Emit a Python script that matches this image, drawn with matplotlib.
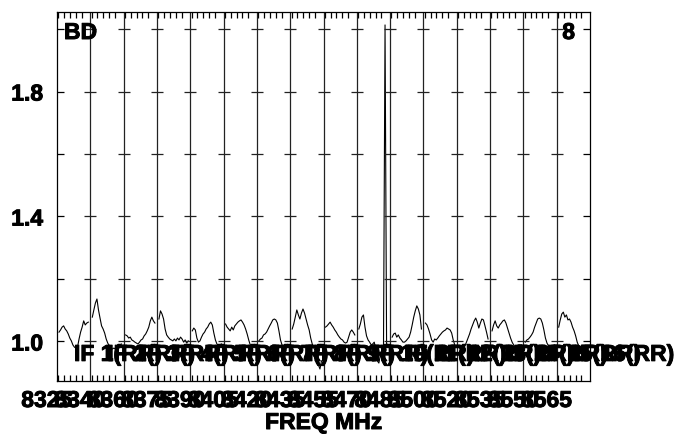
import matplotlib.pyplot as plt
import matplotlib.transforms as mtransforms
import matplotlib.patheffects as pe
import numpy as np

plt.rcParams['font.family'] = ['Liberation Sans', 'DejaVu Sans']
plt.rcParams['font.weight'] = 'bold'

# start frequency of each IF (MHz), as printed under the axis
if_freqs = ['8325', '8340', '8360', '8375', '8390', '8405', '8420', '8435',
            '8455', '8470', '8485', '8500', '8520', '8535', '8550', '8565']
if_names = ['IF 1(RR)', 'IF 2(RR)', 'IF 3(RR)', 'IF 4(RR)', 'IF 5(RR)', 'IF 6(RR)',
            'IF 7(RR)', 'IF 8(RR)', 'IF 9(RR)', 'IF 10(RR)', 'IF 11(RR)', 'IF 12(RR)',
            'IF 13(RR)', 'IF 14(RR)', 'IF 15(RR)', 'IF 16(RR)']

# bandpass amplitude, 20 channels per IF
if01 = [1.030, 1.037, 1.046, 1.050, 1.040, 1.034, 1.024, 1.011, 1.002, 0.989,
        0.982, 0.979, 0.982, 1.008, 1.030, 1.046, 1.066, 1.053, 1.059, 1.062]
if02 = [1.078, 1.101, 1.123, 1.136, 1.101, 1.075, 1.050, 1.040, 1.027, 1.008,
        0.995, 0.986, 0.979, 0.976, 0.979, 0.976, 0.982, 0.986, 0.989, 0.992]
if03 = [1.021, 1.018, 1.011, 1.014, 1.005, 1.002, 0.998, 0.995, 0.992, 0.998,
        1.005, 1.008, 1.018, 1.024, 1.034, 1.046, 1.066, 1.078, 1.066, 1.059]
if04 = [1.072, 1.098, 1.088, 1.072, 1.040, 1.021, 1.014, 1.008, 1.005, 1.002,
        1.008, 1.002, 1.011, 1.005, 1.014, 1.008, 0.998, 1.005, 0.995, 1.002]
if05 = [1.034, 1.043, 1.037, 1.011, 0.998, 1.002, 1.014, 1.024, 1.030, 1.040,
        1.046, 1.056, 1.062, 1.053, 1.027, 1.005, 0.992, 0.986, 0.989, 0.992]
if06 = [1.056, 1.046, 1.040, 1.034, 1.046, 1.037, 1.050, 1.056, 1.062, 1.066,
        1.069, 1.062, 1.053, 1.040, 1.024, 1.005, 0.989, 0.982, 0.986, 0.989]
if07 = [1.002, 1.008, 1.011, 1.021, 1.024, 1.030, 1.040, 1.050, 1.059, 1.069,
        1.072, 1.069, 1.059, 1.034, 1.005, 0.989, 0.982, 0.976, 0.979, 0.986]
if08 = [1.040, 1.056, 1.078, 1.101, 1.085, 1.072, 1.091, 1.104, 1.091, 1.072,
        1.053, 1.037, 1.011, 0.992, 0.979, 0.970, 0.954, 0.925, 0.912, 0.938]
if09 = [1.046, 1.050, 1.056, 1.062, 1.053, 1.046, 1.037, 1.030, 1.021, 1.014,
        1.008, 1.005, 0.998, 0.995, 0.998, 1.014, 1.030, 1.037, 1.030, 1.021]
if10 = [1.040, 1.056, 1.078, 1.085, 1.046, 1.018, 1.005, 0.998, 0.989, 0.992,
        0.998, 0.976, 0.938, 0.931, 0.957, 0.976, 0.986, 2.013, 0.992, 0.989]
if11 = [1.014, 1.024, 1.027, 1.014, 1.021, 1.011, 1.005, 0.998, 0.998, 1.002,
        1.008, 1.014, 1.030, 1.053, 1.078, 1.098, 1.114, 1.104, 1.085, 1.040]
if12 = [1.059, 1.053, 1.040, 1.024, 1.005, 0.998, 1.008, 1.005, 1.011, 1.018,
        1.024, 1.030, 1.034, 1.037, 1.043, 1.040, 1.037, 1.027, 1.005, 0.989]
if13 = [0.982, 0.976, 0.973, 0.976, 0.986, 0.998, 1.011, 1.024, 1.040, 1.053,
        1.066, 1.075, 1.062, 1.043, 1.059, 1.072, 1.069, 1.050, 1.030, 1.008]
if14 = [1.034, 1.053, 1.066, 1.050, 1.043, 1.053, 1.059, 1.066, 1.069, 1.059,
        1.043, 1.027, 1.011, 0.998, 0.989, 0.982, 0.979, 0.982, 0.986, 0.989]
if15 = [0.998, 1.005, 1.008, 1.014, 1.021, 1.030, 1.046, 1.059, 1.072, 1.075,
        1.072, 1.059, 1.037, 1.011, 0.995, 0.986, 0.979, 0.982, 0.986, 0.989]
if16 = [1.046, 1.069, 1.088, 1.094, 1.078, 1.085, 1.069, 1.072, 1.062, 1.046,
        1.034, 1.018, 0.998, 0.986, 0.979, 0.976, 0.979, 0.982, 0.979, 0.986]

amps = [if01, if02, if03, if04, if05, if06, if07, if08,
        if09, if10, if11, if12, if13, if14, if15, if16]

FS = 16.5
heavy = [pe.withStroke(linewidth=0.7, foreground='black')]
W, H = 677, 435
fig = plt.figure(figsize=(W / 100, H / 100), dpi=100)
ax = fig.add_axes([57 / W, 1 - 382 / H, 533 / W, 369 / H])

nif = len(amps)
for i, a in enumerate(amps):
    n = len(a)
    x = i + 0.06 + 0.88 * np.arange(n) / (n - 1)
    ax.plot(x, a, color='black', lw=0.8)

ax.set_xlim(0, nif)
ax.set_ylim(0.8736, 2.0544)

# IF boundaries with their own amplitude ticks
yt = np.arange(1.0, 2.01, 0.2)
for b in range(1, nif):
    ax.axvline(b, color='#222222', lw=0.9)
    ax.plot(np.full(len(yt), b), yt, ls='none', marker='_', ms=8.6,
            mew=0.9, color='#222222')

ax.set_yticks(yt)
ax.set_yticklabels(['1.0', '', '1.4', '', '1.8', ''])
ax.tick_params(axis='y', direction='in', left=True, right=True, length=5,
               width=0.9, pad=10, labelsize=FS)
for lab in ax.get_yticklabels():
    lab.set_path_effects(heavy)

xt = [i + 0.04 + 0.175 * k for i in range(nif) for k in range(5)]
ax.set_xticks(xt)
ax.set_xticklabels([])
ax.tick_params(axis='x', direction='in', top=True, bottom=True, length=4,
               width=0.9)
for s in ax.spines.values():
    s.set_linewidth(0.9)

# frequency labels under the axis
trans = mtransforms.blended_transform_factory(ax.transData, fig.transFigure)
for i, f in enumerate(if_freqs):
    ax.text(i - 0.31, 1 - 408 / H, f, transform=trans, ha='center',
            va='baseline', fontsize=FS, fontweight='bold', clip_on=False,
            path_effects=heavy)
fig.text(323.5 / W, 1 - 430 / H, 'FREQ MHz', ha='center', va='baseline',
         fontsize=FS, fontweight='bold', path_effects=heavy)

# IF names along the trace
for i, name in enumerate(if_names):
    ax.text(i + 0.51, 0.938, name, ha='left', va='baseline', fontsize=FS,
            fontweight='bold', clip_on=False, path_effects=heavy)

ax.text(7 / 533, (382 - 40) / 369, 'BD', transform=ax.transAxes, ha='left',
        va='baseline', fontsize=FS, fontweight='bold', path_effects=heavy)
ax.text(518 / 533, (382 - 40) / 369, '8', transform=ax.transAxes, ha='right',
        va='baseline', fontsize=FS, fontweight='bold', path_effects=heavy)

fig.savefig('out.png', dpi=100)
